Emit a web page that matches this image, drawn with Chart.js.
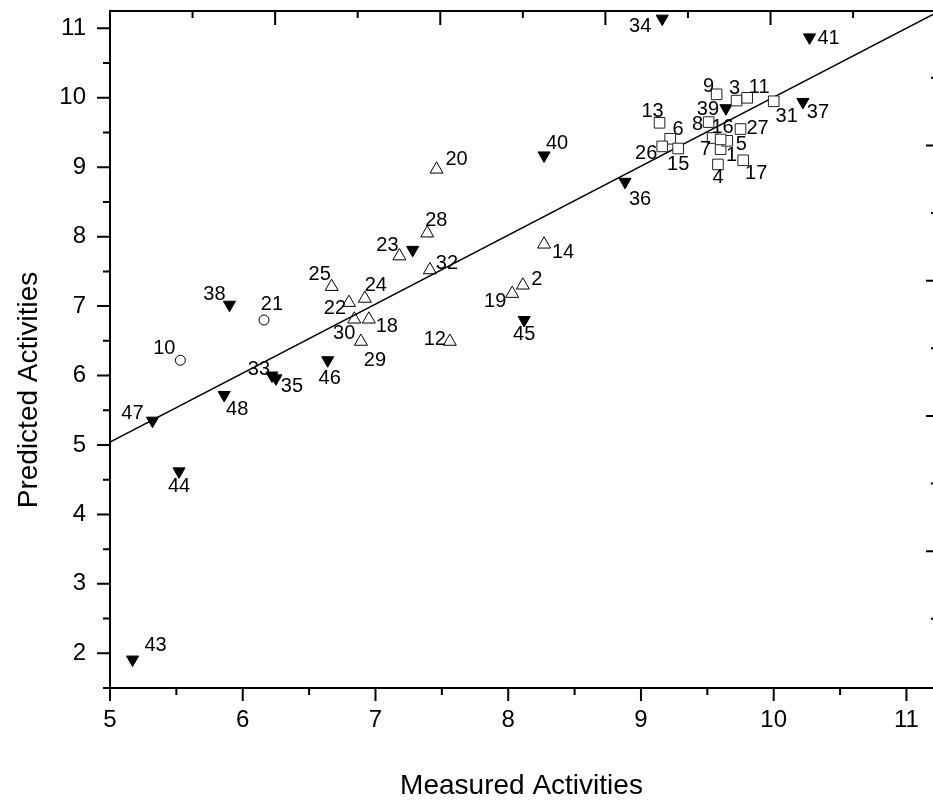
<!DOCTYPE html>
<html>
<head>
<meta charset="utf-8">
<title>Measured vs Predicted Activities</title>
<script src="https://cdn.jsdelivr.net/npm/chart.js@4.4.0/dist/chart.umd.min.js"></script>
<style>
    body { margin: 0; background: #fff; }
    #wrap { width: 933px; height: 812px; }
</style>
</head>
<body>
<div id="wrap"><canvas id="activityChart" width="933" height="812"></canvas></div>
<script>
// Training set, high activity (open squares)
const squareIds = [1, 3, 4, 5, 6, 7, 8, 9, 11, 13, 15, 16, 17, 26, 27, 31];
const squareMeasured = [9.60, 9.72, 9.58, 9.65, 9.22, 9.54, 9.51, 9.57, 9.80, 9.14, 9.28, 9.60, 9.77, 9.16, 9.75, 10.00];
const squarePredicted = [9.26, 9.96, 9.04, 9.38, 9.41, 9.42, 9.65, 10.05, 10.00, 9.64, 9.27, 9.40, 9.10, 9.30, 9.55, 9.95];

// Training set, other compounds (open triangles)
const triangleIds = [2, 12, 14, 18, 19, 20, 22, 23, 24, 25, 28, 29, 30, 32];
const triangleMeasured = [8.11, 7.56, 8.27, 6.95, 8.03, 7.46, 6.80, 7.18, 6.92, 6.67, 7.39, 6.89, 6.84, 7.41];
const trianglePredicted = [7.30, 6.49, 7.89, 6.81, 7.18, 8.97, 7.05, 7.72, 7.11, 7.28, 8.05, 6.49, 6.81, 7.52];

// Open circles
const circleIds = [10, 21];
const circleMeasured = [5.53, 6.16];
const circlePredicted = [6.22, 6.80];

// Test set (filled down triangles)
const testIds = [33, 34, 35, 36, 37, 38, 39, 40, 41, 42, 43, 44, 45, 46, 47, 48];
const testMeasured = [6.22, 9.16, 6.25, 8.88, 10.22, 5.90, 9.64, 8.27, 10.27, 7.28, 5.17, 5.52, 8.12, 6.64, 5.32, 5.86];
const testPredicted = [6.00, 11.14, 5.96, 8.79, 9.94, 7.02, 9.85, 9.17, 10.87, 7.81, 1.91, 4.62, 6.80, 6.22, 5.35, 5.72];

// Fitted line ends
const fitX = [5, 11.2];
const fitY = [5.04, 11.2];

// Axis tick labels
const xTickValues = [5, 6, 7, 8, 9, 10, 11];
const yTickValues = [2, 3, 4, 5, 6, 7, 8, 9, 10, 11];

// where each compound number sits relative to its marker (px); 42 has no label
const labelOffsets = {
    1: [11, 5], 2: [14, -7], 3: [-2, -14], 4: [0, 12], 5: [14, 2], 6: [8, -11], 7: [-7, 10],
    8: [-11, 1], 9: [-8, -9], 10: [-16, -13], 11: [12, -12], 12: [-15, -4], 13: [-7, -13],
    14: [19, 7], 15: [0, 15], 16: [2, -13], 17: [13, 12], 18: [18, 6], 19: [-17, 6],
    20: [20, -11], 21: [8, -17], 22: [-14, 4], 23: [-12, -12], 24: [11, -14], 25: [-12, -14],
    26: [-16, 6], 27: [17, -2], 28: [9, -14], 29: [14, 17], 30: [-10, 13], 31: [13, 14],
    32: [17, -8], 33: [-13, -8], 34: [-22, 6], 35: [16, 7], 36: [15, 16], 37: [15, 9],
    38: [-15, -12], 39: [-18, 0], 40: [13, -13], 41: [19, 0], 43: [23, -16], 44: [0, 14],
    45: [0, 13], 46: [2, 17], 47: [-20, -9], 48: [13, 13]
};

const FONT = '"Liberation Sans", Arial, sans-serif';

const toPoints = (xs, ys) => xs.map((v, i) => ({ x: v, y: ys[i] }));

// compound numbers next to markers
const pointLabels = {
    id: 'pointLabels',
    afterDatasetsDraw(chart) {
        const ctx = chart.ctx;
        ctx.save();
        ctx.fillStyle = '#000';
        ctx.font = '20px ' + FONT;
        ctx.textAlign = 'center';
        ctx.textBaseline = 'alphabetic';
        chart.data.datasets.forEach((ds, di) => {
            if (!ds.ids) return;
            const meta = chart.getDatasetMeta(di);
            meta.data.forEach((el, i) => {
                const off = labelOffsets[ds.ids[i]];
                if (!off) return;
                ctx.fillText(String(ds.ids[i]), el.x + off[0], el.y + off[1] + 7);
            });
        });
        ctx.restore();
    }
};

// box frame, inward/outward ticks and the y title
const frame = {
    id: 'frame',
    afterDraw(chart) {
        const { ctx, chartArea: a, scales: { x, y } } = chart;
        ctx.save();
        ctx.strokeStyle = '#000';
        ctx.lineWidth = 2;
        ctx.beginPath();
        ctx.moveTo(a.left, a.top - 1);
        ctx.lineTo(a.left, a.bottom + 1);
        ctx.moveTo(a.left - 1, a.bottom);
        ctx.lineTo(a.right, a.bottom);
        ctx.moveTo(a.left - 1, a.top);
        ctx.lineTo(a.right, a.top);

        // bottom ticks, major + minor
        xTickValues.forEach(v => {
            const px = x.getPixelForValue(v);
            ctx.moveTo(px, a.bottom); ctx.lineTo(px, a.bottom + 13);
            const mx = x.getPixelForValue(v + 0.5);
            if (mx < a.right) { ctx.moveTo(mx, a.bottom); ctx.lineTo(mx, a.bottom + 7); }
        });
        // left ticks
        yTickValues.forEach(v => {
            const py = y.getPixelForValue(v);
            ctx.moveTo(a.left, py); ctx.lineTo(a.left - 13, py);
            const my = y.getPixelForValue(v - 0.5);
            ctx.moveTo(a.left, my); ctx.lineTo(a.left - 7, my);
        });
        // top ticks (own spacing), pointing into the plot
        for (let k = 1; k < 10; k++) {
            const px = x.getPixelForValue(5 + k * 0.622);
            if (px > a.right) break;
            ctx.moveTo(px, a.top); ctx.lineTo(px, a.top + (k % 2 === 0 ? 14 : 7));
        }
        // right ticks, pointing into the plot
        for (let k = 0; k < 9; k++) {
            const py = y.getPixelForValue(2.496 + k * 0.974);
            ctx.moveTo(a.right, py); ctx.lineTo(a.right - (k % 2 === 1 ? 7 : 2), py);
        }
        ctx.stroke();

        ctx.fillStyle = '#000';
        ctx.font = '28px ' + FONT;
        ctx.textAlign = 'center';
        ctx.textBaseline = 'middle';
        ctx.translate(29, 390);
        ctx.rotate(-Math.PI / 2);
        ctx.fillText('Predicted Activities', 0, 0);
        ctx.restore();
    }
};

new Chart(document.getElementById('activityChart'), {
    type: 'scatter',
    data: {
        datasets: [
            {
                label: 'Fit',
                data: toPoints(fitX, fitY),
                showLine: true,
                borderColor: '#000',
                borderWidth: 1.5,
                pointRadius: 0,
                order: 5
            },
            {
                label: 'Training (high)',
                ids: squareIds,
                data: toPoints(squareMeasured, squarePredicted),
                pointStyle: 'rect',
                pointRadius: 7.5,
                backgroundColor: '#fff',
                borderColor: '#222',
                borderWidth: 1,
                order: 1
            },
            {
                label: 'Training',
                ids: triangleIds,
                data: toPoints(triangleMeasured, trianglePredicted),
                pointStyle: 'triangle',
                pointRadius: 7.5,
                backgroundColor: 'rgba(255,255,255,0)',
                borderColor: '#000',
                borderWidth: 1,
                order: 1
            },
            {
                label: 'Outliers',
                ids: circleIds,
                data: toPoints(circleMeasured, circlePredicted),
                pointStyle: 'circle',
                pointRadius: 5,
                backgroundColor: '#fff',
                borderColor: '#000',
                borderWidth: 1,
                order: 1
            },
            {
                label: 'Test',
                ids: testIds,
                data: toPoints(testMeasured, testPredicted),
                pointStyle: 'triangle',
                rotation: 180,
                pointRadius: 7,
                backgroundColor: '#000',
                borderColor: '#000',
                borderWidth: 1,
                order: 1
            }
        ]
    },
    options: {
        responsive: false,
        devicePixelRatio: 1,
        animation: false,
        layout: { autoPadding: false, padding: { top: 11, right: 0, left: 0, bottom: 0 } },
        plugins: {
            legend: { display: false },
            tooltip: { enabled: false }
        },
        scales: {
            x: {
                type: 'linear',
                min: 5,
                max: 11.2,
                grid: { display: false, drawTicks: false },
                border: { display: false },
                afterBuildTicks: s => { s.ticks = xTickValues.map(v => ({ value: v })); },
                afterFit: s => { s.height = 124; s.paddingLeft = 0; s.paddingRight = 0; },
                ticks: {
                    color: '#000',
                    padding: 18,
                    maxRotation: 0,
                    font: { family: FONT, size: 24 }
                },
                title: {
                    display: true,
                    text: 'Measured Activities',
                    color: '#000',
                    font: { family: FONT, size: 28 },
                    padding: { top: 0, bottom: 9 }
                }
            },
            y: {
                type: 'linear',
                min: 1.5,
                max: 11.25,
                grid: { display: false, drawTicks: false },
                border: { display: false },
                afterBuildTicks: s => { s.ticks = yTickValues.map(v => ({ value: v })); },
                afterFit: s => { s.width = 110; s.paddingTop = 0; s.paddingBottom = 0; },
                ticks: {
                    color: '#000',
                    padding: 24,
                    font: { family: FONT, size: 24 }
                }
            }
        }
    },
    plugins: [pointLabels, frame]
});
</script>
</body>
</html>
